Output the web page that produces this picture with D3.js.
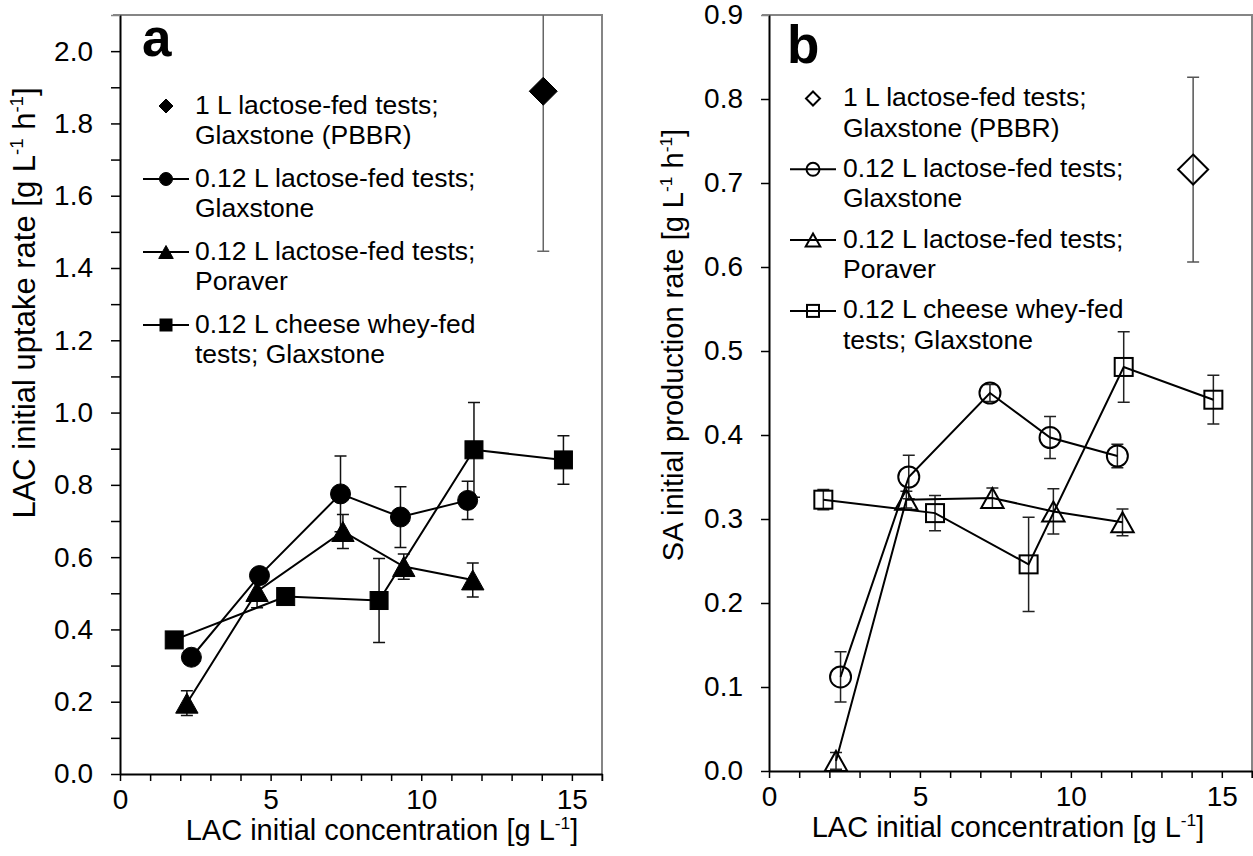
<!DOCTYPE html>
<html>
<head>
<meta charset="utf-8">
<script src="https://cdn.jsdelivr.net/npm/d3@7"></script>
<style>
  body { margin: 0; background: #fff; }
  svg text { font-family: "Liberation Sans", Arial, sans-serif; fill: #000; }
</style>
</head>
<body>
<div id="chart"></div>
<script>
// LAC initial concentration [g L-1] for each test series
var xPBBR  = [14.05];
var xGlax  = [2.37, 4.63, 7.32, 9.31, 11.54];
var xPorav = [2.22, 4.55, 7.40, 9.42, 11.71];
var xWhey  = [1.80, 5.50, 8.60, 11.75, 14.72];

// panel a: LAC initial uptake rate [g L-1 h-1]
var upPBBR     = [1.889];
var upPBBRErr  = [0.443];
var upGlax     = [0.323, 0.549, 0.775, 0.711, 0.757];
var upGlaxErr  = [0.015, 0.015, 0.105, 0.084, 0.053];
var upPorav    = [0.196, 0.505, 0.671, 0.574, 0.537];
var upPoravErr = [0.034, 0.045, 0.047, 0.035, 0.047];
var upWhey     = [0.371, 0.491, 0.480, 0.897, 0.869];
var upWheyErr  = [0.010, 0.015, 0.116, 0.131, 0.067];

// panel b: SA initial production rate [g L-1 h-1]
var saPBBR     = [0.716];
var saPBBRErr  = [0.110];
var saGlax     = [0.112, 0.350, 0.450, 0.397, 0.375];
var saGlaxErr  = [0.030, 0.026, 0.010, 0.025, 0.014];
var saPorav    = [0.012, 0.323, 0.325, 0.309, 0.296];
var saPoravErr = [0.010, 0.010, 0.012, 0.027, 0.016];
var saWhey     = [0.323, 0.307, 0.246, 0.481, 0.442];
var saWheyErr  = [0.012, 0.021, 0.056, 0.042, 0.029];

var legendLabels = [
  ["1 L lactose-fed tests;", "Glaxstone (PBBR)"],
  ["0.12 L lactose-fed tests;", "Glaxstone"],
  ["0.12 L lactose-fed tests;", "Poraver"],
  ["0.12 L cheese whey-fed", "tests; Glaxstone"]
];
var xTicks  = d3.range(0, 17);
var yTicksA = d3.range(0, 22).map(function(i) { return i / 10; });
var yTicksB = d3.range(0, 10).map(function(i) { return i / 10; });

var xTitle  = [["LAC initial concentration [g L"], ["-1", 1], ["]"]];
var yTitleA = [["LAC initial uptake rate [g L"], ["-1", 1], [" h"], ["-1", 1], ["]"]];
var yTitleB = [["SA initial production rate [g L"], ["-1", 1], [" h"], ["-1", 1], ["]"]];

var svg = d3.select("#chart").append("svg")
    .attr("width", 1253)
    .attr("height", 856);

// text with superscripts
function richText(t, parts, size) {
  parts.forEach(function(p) {
    var sp = t.append("tspan").text(p[0]);
    if (p[1]) sp.attr("font-size", size * 0.6).attr("dy", -size * 0.38);
    else if (t.node().childNodes.length > 1) sp.attr("dy", size * 0.38);
  });
  return t;
}

function drawMarker(g, shape, cx, cy, s, filled) {
  var h = s / 2, m;
  if (shape === "circle") {
    m = g.append("circle").attr("cx", cx).attr("cy", cy).attr("r", h);
  } else if (shape === "square") {
    m = g.append("rect").attr("x", cx - h).attr("y", cy - h).attr("width", s).attr("height", s);
  } else if (shape === "triangle") {
    var w = s * 0.56;
    m = g.append("path").attr("d", "M" + cx + "," + (cy - h) + "L" + (cx + w) + "," + (cy + h) +
        "L" + (cx - w) + "," + (cy + h) + "Z");
  } else {
    m = g.append("path").attr("d", "M" + cx + "," + (cy - h) + "L" + (cx + h) + "," + cy +
        "L" + cx + "," + (cy + h) + "L" + (cx - h) + "," + cy + "Z");
  }
  m.attr("fill", filled ? "#000" : "none")
   .attr("stroke", "#000")
   .attr("stroke-width", filled ? 1 : 2);
}

function drawPanel(p) {
  var x = d3.scaleLinear().domain([0, 16]).range([p.left, p.right]);
  var y = d3.scaleLinear().domain([0, p.yMax]).range([p.bottom, p.top]);
  var g = svg.append("g");

  // gray frame top / right
  g.append("path")
    .attr("d", "M" + (p.left - 7) + "," + p.top + "H" + p.right + "V" + (p.bottom + 7))
    .attr("fill", "none").attr("stroke", "#858585").attr("stroke-width", 2);

  // axes
  var ax = g.append("g")
    .attr("transform", "translate(0," + p.bottom + ")")
    .call(d3.axisBottom(x).tickValues(xTicks).tickSize(7).tickSizeOuter(0).tickPadding(8)
      .tickFormat(function(d) { return d % 5 === 0 ? d : ""; }));
  var ay = g.append("g")
    .attr("transform", "translate(" + p.left + ",0)")
    .call(d3.axisLeft(y).tickValues(p.yTicks).tickSize(p.tickY).tickSizeOuter(0).tickPadding(18)
      .tickFormat(function(d) {
        return Math.round(d * 10) % p.labelEvery === 0 ? d3.format(".1f")(d) : "";
      }));
  [ax, ay].forEach(function(a) {
    a.select(".domain").attr("stroke-width", 2);
    a.selectAll(".tick line").attr("stroke-width", 1.5);
    a.selectAll("text").attr("font-size", 28).attr("font-family", null);
  });
  ay.selectAll(".tick").filter(function(d) { return d > p.yMax - 0.05; }).select("line").attr("stroke", "#858585");

  // axis titles
  richText(g.append("text").attr("x", p.xTitleX).attr("y", p.xTitleY)
    .attr("text-anchor", "middle").attr("font-size", 29), xTitle, 29);
  richText(g.append("text")
    .attr("transform", "translate(" + p.yTitleX + "," + p.yTitleY + ") rotate(-90)")
    .attr("text-anchor", "middle").attr("font-size", p.yTitleSize), p.yTitle, p.yTitleSize);

  // panel letter
  g.append("text").attr("x", p.letterX).attr("y", p.letterY)
    .attr("font-size", 53).attr("font-weight", "bold").text(p.letter);

  // data
  g.append("clipPath").attr("id", "clip" + p.letter)
    .append("rect").attr("x", p.left).attr("y", p.top)
    .attr("width", p.right - p.left).attr("height", p.bottom - p.top);
  var plot = g.append("g").attr("clip-path", "url(#clip" + p.letter + ")");

  p.series.forEach(function(s) {
    s.x.forEach(function(xv, i) {
      var lo = y(s.y[i] - s.err[i]), hi = y(s.y[i] + s.err[i]), cx = x(xv);
      plot.append("path")
        .attr("d", "M" + cx + "," + lo + "V" + hi + "M" + (cx - 6) + "," + lo + "H" + (cx + 6) +
             "M" + (cx - 6) + "," + hi + "H" + (cx + 6))
        .attr("fill", "none").attr("stroke", s.errColor).attr("stroke-width", 1.5);
    });
  });
  p.series.forEach(function(s) {
    if (!s.line) return;
    plot.append("path")
      .datum(d3.range(s.x.length))
      .attr("d", d3.line().x(function(i) { return x(s.x[i]); }).y(function(i) { return y(s.y[i]); }))
      .attr("fill", "none").attr("stroke", "#000").attr("stroke-width", 2);
  });
  p.series.forEach(function(s) {
    s.x.forEach(function(xv, i) {
      drawMarker(plot, s.shape, x(xv), y(s.y[i]), p.sizes[s.shape], p.filled);
    });
  });

  // legend
  p.series.forEach(function(s, k) {
    var by = p.legendY + k * p.legendStep, my = by - 7.5;
    if (s.line) {
      g.append("line").attr("x1", p.legendMX - 23).attr("x2", p.legendMX + 23)
        .attr("y1", my).attr("y2", my).attr("stroke", "#000").attr("stroke-width", 2);
    }
    drawMarker(g, s.shape, p.legendMX, my, legendSizes[s.shape], p.filled);
    var t = g.append("text").attr("x", p.legendTX).attr("y", by).attr("font-size", 26.5);
    t.append("tspan").text(legendLabels[k][0]);
    t.append("tspan").attr("x", p.legendTX).attr("dy", 30.5).text(legendLabels[k][1]);
  });
}

var legendSizes = { diamond: 14, circle: 13, square: 12, triangle: 13 };

drawPanel({
  left: 120, right: 602, top: 15, bottom: 774, yMax: 2.1, yTicks: yTicksA, labelEvery: 2, tickY: 9,
  filled: true, letter: "a", letterX: 142, letterY: 56,
  xTitleX: 382, xTitleY: 840, yTitle: yTitleA, yTitleSize: 31, yTitleX: 35, yTitleY: 303,
  legendMX: 166, legendTX: 195, legendY: 113.5, legendStep: 73,
  sizes: { diamond: 28, circle: 20, square: 18, triangle: 20 },
  series: [
    { x: xPBBR, y: upPBBR, err: upPBBRErr, shape: "diamond", line: false, errColor: "#666" },
    { x: xGlax, y: upGlax, err: upGlaxErr, shape: "circle", line: true, errColor: "#111" },
    { x: xPorav, y: upPorav, err: upPoravErr, shape: "triangle", line: true, errColor: "#111" },
    { x: xWhey, y: upWhey, err: upWheyErr, shape: "square", line: true, errColor: "#111" }
  ]
});

drawPanel({
  left: 769, right: 1252, top: 15, bottom: 771, yMax: 0.9, yTicks: yTicksB, labelEvery: 1, tickY: 8,
  filled: false, letter: "b", letterX: 787, letterY: 63,
  xTitleX: 1008, xTitleY: 837, yTitle: yTitleB, yTitleSize: 29, yTitleX: 683, yTitleY: 345,
  legendMX: 813, legendTX: 843, legendY: 106, legendStep: 70.8,
  sizes: { diamond: 30, circle: 21, square: 18, triangle: 20 },
  series: [
    { x: xPBBR, y: saPBBR, err: saPBBRErr, shape: "diamond", line: false, errColor: "#555" },
    { x: xGlax, y: saGlax, err: saGlaxErr, shape: "circle", line: true, errColor: "#222" },
    { x: xPorav, y: saPorav, err: saPoravErr, shape: "triangle", line: true, errColor: "#222" },
    { x: xWhey, y: saWhey, err: saWheyErr, shape: "square", line: true, errColor: "#222" }
  ]
});
</script>
</body>
</html>
